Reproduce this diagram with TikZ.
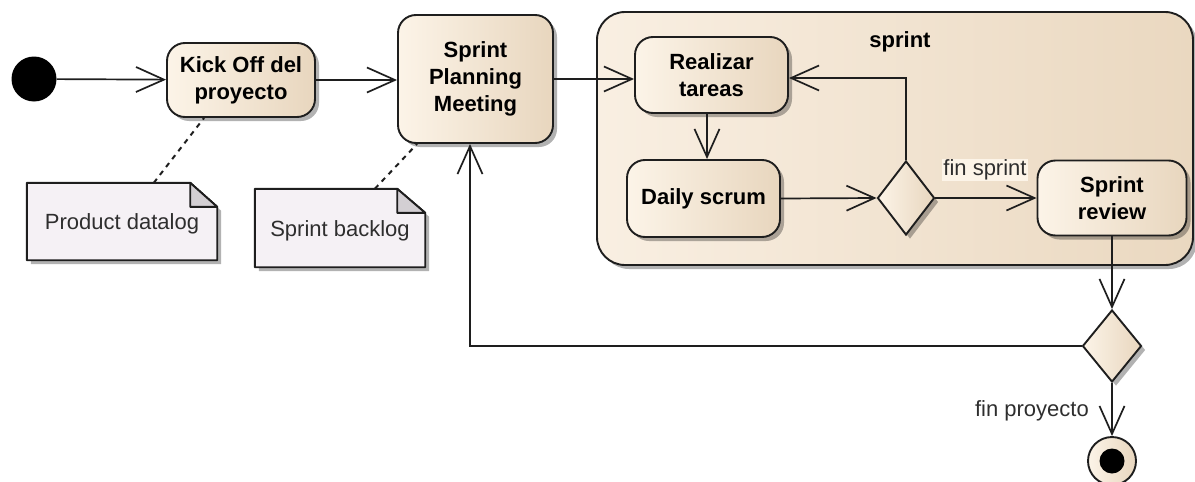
\documentclass[tikz,border=0pt]{standalone}
\usepackage{fontspec}
\setmainfont{Liberation Sans}
\usetikzlibrary{arrows.meta,shapes.geometric,shadows,calc,backgrounds}

\definecolor{actL}{HTML}{FCF4E8}
\definecolor{actR}{HTML}{E8D6BE}
\definecolor{partL}{HTML}{F9EFE2}
\definecolor{partR}{HTML}{EAD8C0}
\definecolor{noteF}{HTML}{F5F1F5}
\definecolor{foldF}{HTML}{D3CFD3}
\definecolor{lineC}{HTML}{1E1E1E}
\definecolor{labelC}{HTML}{2E2E2E}

\tikzset{
  shade/.style={drop shadow={shadow xshift=4pt,shadow yshift=-4pt,opacity=0.3,fill=black}},
  boldtext/.style={font=\bfseries\fontsize{22}{27}\selectfont},
  plaintext/.style={font=\fontsize{22}{27}\selectfont, text=labelC},
  act/.style={rectangle, rounded corners=18pt, draw=lineC, line width=1.9pt,
    left color=actL, right color=actR, shade, align=center, inner sep=0pt, boldtext},
  decision/.style={diamond, draw=lineC, line width=1.9pt, left color=actL, right color=actR,
    shade, inner sep=0pt, minimum width=57pt, minimum height=74pt},
  notebox/.style={rectangle, inner sep=0pt, plaintext, text height=16pt, text depth=0pt},
  notebody/.style={fill=noteF, draw=lineC, line width=1.9pt, line join=round, shade},
  notefold/.style={fill=foldF, draw=lineC, line width=1.9pt, line join=round},
  flow/.style={lineC, line width=1.7pt,
    -{Straight Barb[length=28pt,width=25pt,line width=1.7pt]}},
  anchorline/.style={lineC, line width=2pt, dash pattern=on 5pt off 5pt},
}

\begin{document}
\begin{tikzpicture}[x=1pt,y=-1pt]
  \useasboundingbox (0,0) rectangle (1195,482);

  % sprint partition
  \node[rectangle, rounded corners=28pt, draw=lineC, line width=1.9pt,
        left color=partL, right color=partR, shade,
        minimum width=596pt, minimum height=253pt, inner sep=0pt] (part) at (895,138.5) {};
  \node[boldtext] (sprintlbl) at (900,42) {sprint};

  % start and actions
  \node[circle, fill=black, minimum size=45pt, inner sep=0pt] (init) at (34,79) {};
  \node[act, minimum width=148pt, minimum height=74pt] (kick) at (241,80) {Kick Off del\\proyecto};
  \node[act, minimum width=155pt, minimum height=128pt] (spm) at (475.5,79) {Sprint\\Planning\\Meeting};
  \node[act, minimum width=153pt, minimum height=76pt] (realizar) at (711.5,75) {Realizar\\tareas};
  \node[act, minimum width=153pt, minimum height=77pt] (daily) at (703.5,198.5) {Daily scrum};
  \node[decision] (dec1) at (906,198) {};
  \node[act, minimum width=149pt, minimum height=75pt] (review) at (1112,198) {Sprint\\review};
  \node[decision, minimum width=59pt, minimum height=72pt] (dec2) at (1112,346) {};

  % end node
  \node[circle, draw=lineC, line width=1.9pt, left color=actL, right color=actR,
        minimum size=48pt, inner sep=0pt] (final) at (1112,461) {};
  \node[circle, fill=black, minimum size=25pt, inner sep=0pt] (finaldot) at (final) {};

  % notes
  \node[notebox, minimum width=190pt, minimum height=77pt] (note1) at (122,221.5) {Product datalog};
  \node[notebox, minimum width=170pt, minimum height=78pt] (note2) at (340,228) {Sprint backlog};
  \begin{scope}[on background layer]
    \path[notebody] (note1.north west) -- ($(note1.north east)+(-27,0)$)
      -- ($(note1.north east)+(0,24)$) -- (note1.south east) -- (note1.south west) -- cycle;
    \path[notefold] ($(note1.north east)+(-27,0)$) -- ($(note1.north east)+(-27,24)$)
      -- ($(note1.north east)+(0,24)$) -- cycle;
    \path[notebody] (note2.north west) -- ($(note2.north east)+(-28,0)$)
      -- ($(note2.north east)+(0,24)$) -- (note2.south east) -- (note2.south west) -- cycle;
    \path[notefold] ($(note2.north east)+(-28,0)$) -- ($(note2.north east)+(-28,24)$)
      -- ($(note2.north east)+(0,24)$) -- cycle;
  \end{scope}

  % note anchors
  \draw[anchorline] ($(note1.north west)+(127,0)$) -- ($(kick.south west)+(38,0)$);
  \draw[anchorline] ($(note2.north west)+(120,0)$) -- ($(spm.south west)+(20,0)$);

  % helper points for the vertical flows
  \coordinate (rtout) at ($(realizar.south)+(-4.5,0)$);
  \coordinate (rtin) at ($(realizar.east)+(0,3)$);
  \coordinate (spmin) at ($(spm.south)+(-5.5,0)$);

  % control flow
  \draw[flow] (init) -- (kick);
  \draw[flow] (kick.east) -- (kick.east -| spm.west);
  \draw[flow] (spm.east) -- (spm.east -| realizar.west);
  \draw[flow] (rtout) -- (rtout |- daily.north);
  \draw[flow] (daily.east) -- (dec1.west);
  \draw[flow] (dec1.north) |- (rtin);
  \draw[flow] (dec1.east) -- (review.west);
  \draw[flow] (review.south) -- (dec2.north);
  \draw[flow] (dec2.west) -| (spmin);
  \draw[flow] (dec2.south) -- (final.north);

  % guards
  \node[plaintext, fill=actL, inner sep=1pt] (guard1) at (985,170) {fin sprint};
  \node[plaintext, anchor=east, inner sep=1pt] (guard2) at (1090,411) {fin proyecto};
\end{tikzpicture}
\end{document}
